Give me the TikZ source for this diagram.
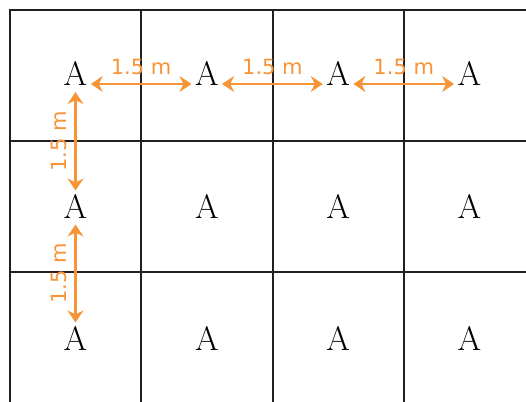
\documentclass[tikz,border=0pt]{standalone}
\usepackage{fontspec}
\usetikzlibrary{arrows.meta}
\newfontfamily\labelfont{DejaVu Sans}
\definecolor{dimorange}{RGB}{247,148,56}
\definecolor{linegray}{RGB}{35,31,32}

\begin{document}
\begin{tikzpicture}[
      x=1pt, y=1pt,
      cellline/.style={draw=linegray, line width=2.3pt, line cap=rect},
      plant/.style={font=\fontsize{34}{40}\selectfont},
      gaparrow/.style={<->, >={Stealth[length=12pt, width=16pt, inset=4pt]},
        draw=dimorange, line width=2.8pt},
      gaplabel/.style={font=\labelfont\fontsize{21}{25}\selectfont,
        text=dimorange, anchor=south, outer sep=5.5pt}
    ]
      % fixed frame, same size as the reference
      \useasboundingbox (0,0) rectangle (526,401);

      % planting grid (open at right and bottom)
      \foreach \x in {10,141,273,404}
        \draw[cellline] (\x,391) -- (\x,0);
      \foreach \y in {391,260,129}
        \draw[cellline] (10,\y) -- (526,\y);

      % one A per cell
      \foreach \r/\y in {1/327.5, 2/195, 3/63}
        \foreach \c/\x in {1/75.5, 2/206.8, 3/338.1, 4/469.4}
          \node[plant] (a\r\c) at (\x,\y) {A};

      % spacing along the top row (arrows sit low, near the baseline)
      \draw[gaparrow] ([yshift=-10.5pt]a11.east) -- ([yshift=-10.5pt]a12.west)
        node[gaplabel, midway] {1.5 m};
      \draw[gaparrow] ([yshift=-10.5pt]a12.east) -- ([yshift=-10.5pt]a13.west)
        node[gaplabel, midway] {1.5 m};
      \draw[gaparrow] ([yshift=-10.5pt]a13.east) -- ([yshift=-10.5pt]a14.west)
        node[gaplabel, midway] {1.5 m};

      % spacing down the first column
      \draw[gaparrow] ([yshift=-3pt]a11.south) -- (a21.north)
        node[gaplabel, midway, rotate=90] {1.5 m};
      \draw[gaparrow] ([yshift=-3pt]a21.south) -- (a31.north)
        node[gaplabel, midway, rotate=90] {1.5 m};
    \end{tikzpicture}
\end{document}
